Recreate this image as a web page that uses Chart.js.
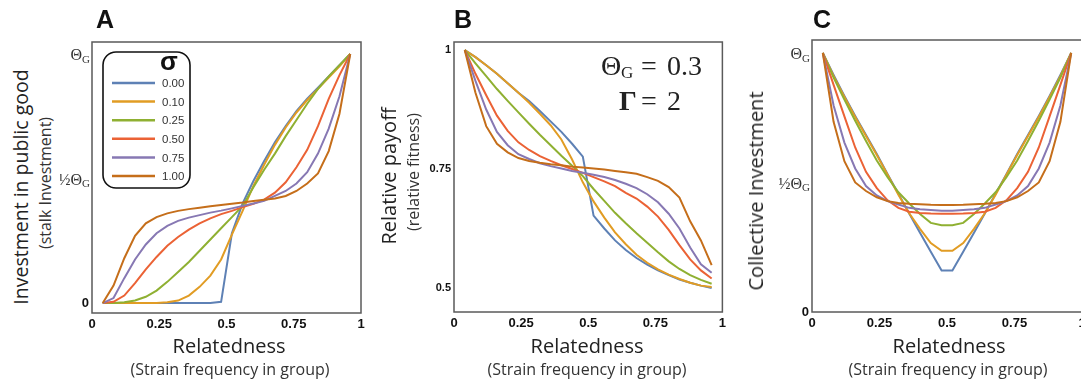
<!DOCTYPE html>
<html>
<head>
<meta charset="utf-8">
<script src="https://cdn.jsdelivr.net/npm/chart.js@4.4.1/dist/chart.umd.min.js"></script>
<style>
body{margin:0;background:#fff;overflow:hidden;width:1081px;height:385px;position:relative;font-family:"Open Sans","Liberation Sans",sans-serif}
canvas{position:absolute;top:0}
.t{position:absolute;white-space:nowrap;transform:translate(-50%,-50%);line-height:1}
.r{transform:translate(-50%,-50%) rotate(-90deg)}
.main{font-size:20px;color:#222}
.sub{font-size:16px;color:#333}
.let{font-family:"Liberation Sans",Arial,sans-serif;font-weight:bold;font-size:25px;color:#111}
</style>
</head>
<body>
<canvas id="cA" width="310" height="340" style="left:60px;width:310px;height:340px"></canvas>
<canvas id="cB" width="350" height="340" style="left:380px;width:350px;height:340px"></canvas>
<canvas id="cC" width="350" height="340" style="left:740px;width:350px;height:340px"></canvas>

<div class="t let" style="left:105px;top:19px">A</div>
<div class="t let" style="left:463px;top:19px">B</div>
<div class="t let" style="left:822px;top:19px">C</div>

<div class="t main" style="left:229px;top:346px">Relatedness</div>
<div class="t sub" style="left:230px;top:369px">(Strain frequency in group)</div>
<div class="t main" style="left:587px;top:346px">Relatedness</div>
<div class="t sub" style="left:587px;top:369px">(Strain frequency in group)</div>
<div class="t main" style="left:949px;top:346px">Relatedness</div>
<div class="t sub" style="left:948px;top:369px">(Strain frequency in group)</div>

<div class="t r main" style="left:21px;top:187px;font-size:19.5px">Investment in public good</div>
<div class="t r sub" style="left:45px;top:183px">(stalk Investment)</div>
<div class="t r main" style="left:389px;top:176px">Relative payoff</div>
<div class="t r sub" style="left:413px;top:172px">(relative fitness)</div>
<div class="t r main" style="left:756px;top:191px">Collective Investment</div>

<script>
// x values: strain frequency in group
const relatedness = [0.04,0.08,0.12,0.16,0.20,0.24,0.28,0.32,0.36,0.40,0.44,0.48,0.52,0.56,0.60,0.64,0.68,0.72,0.76,0.80,0.84,0.88,0.92,0.96];
const sigmaLabels = ['0.00','0.10','0.25','0.50','0.75','1.00'];
const lineColors = ['#5e81b5','#e19c24','#8fb032','#eb6235','#8778b3','#c56e1a'];

const xTicks = [0,0.25,0.5,0.75,1];
const xTickLabels = ['0','0.25','0.5','0.75','1'];
const yTicksA = [0,0.5,1];
const yTickLabelsA = ['0','½Θ_G','Θ_G'];
const yTicksB = [0.5,0.75,1];
const yTickLabelsB = ['0.5','0.75','1'];
const yTicksC = [0,0.5,1];
const yTickLabelsC = ['0','½Θ_G','Θ_G'];

// A: investment in public good (units of Theta_G)
const invest000 = [0,0,0,0,0,0,0,0,0,0,0,0.005,0.28,0.40,0.49,0.57,0.645,0.71,0.77,0.82,0.865,0.91,0.955,1.0];
const invest010 = [0,0,0,0,0,0,0.003,0.01,0.03,0.065,0.11,0.175,0.275,0.37,0.47,0.555,0.635,0.705,0.765,0.815,0.86,0.905,0.95,1.0];
const invest025 = [0,0,0.003,0.01,0.025,0.05,0.085,0.125,0.165,0.21,0.255,0.30,0.345,0.39,0.465,0.535,0.60,0.67,0.735,0.80,0.86,0.91,0.955,1.0];
const invest050 = [0,0.005,0.03,0.08,0.135,0.185,0.23,0.265,0.295,0.32,0.34,0.357,0.37,0.385,0.398,0.415,0.443,0.485,0.545,0.615,0.71,0.82,0.915,1.0];
const invest075 = [0,0.02,0.10,0.175,0.235,0.28,0.31,0.33,0.343,0.353,0.363,0.371,0.38,0.39,0.40,0.41,0.43,0.45,0.48,0.525,0.60,0.70,0.83,1.0];
const invest100 = [0,0.07,0.18,0.27,0.32,0.345,0.36,0.37,0.377,0.383,0.389,0.394,0.399,0.404,0.41,0.415,0.42,0.43,0.45,0.48,0.52,0.61,0.76,1.0];

// B: relative payoff
const payoff000 = [1.0,0.985,0.968,0.95,0.93,0.91,0.893,0.872,0.85,0.828,0.803,0.776,0.652,0.625,0.60,0.58,0.563,0.549,0.537,0.527,0.518,0.511,0.505,0.50];
const payoff010 = [1.0,0.985,0.968,0.95,0.93,0.91,0.889,0.866,0.842,0.812,0.77,0.722,0.682,0.648,0.617,0.592,0.570,0.553,0.539,0.528,0.519,0.511,0.505,0.502];
const payoff025 = [1.0,0.972,0.945,0.918,0.893,0.869,0.845,0.822,0.80,0.778,0.757,0.735,0.708,0.683,0.658,0.636,0.615,0.595,0.575,0.556,0.54,0.527,0.517,0.509];
const payoff050 = [1.0,0.95,0.905,0.862,0.83,0.806,0.79,0.777,0.767,0.758,0.75,0.742,0.733,0.724,0.714,0.70,0.688,0.671,0.65,0.622,0.59,0.56,0.537,0.52];
const payoff075 = [1.0,0.935,0.875,0.828,0.80,0.781,0.771,0.762,0.756,0.751,0.746,0.742,0.738,0.733,0.727,0.719,0.71,0.697,0.68,0.656,0.625,0.585,0.55,0.532];
const payoff100 = [1.0,0.91,0.84,0.803,0.785,0.773,0.767,0.763,0.76,0.758,0.755,0.753,0.751,0.749,0.746,0.743,0.74,0.733,0.725,0.712,0.69,0.64,0.60,0.548];

// C: collective investment (units of Theta_G)
const coll000 = [1.0,0.915,0.834,0.757,0.683,0.610,0.532,0.457,0.380,0.306,0.233,0.160,0.160,0.233,0.306,0.380,0.457,0.532,0.610,0.683,0.757,0.834,0.915,1.0];
const coll010 = [1.0,0.910,0.830,0.753,0.679,0.606,0.530,0.453,0.381,0.321,0.266,0.236,0.236,0.266,0.321,0.381,0.453,0.530,0.606,0.679,0.753,0.830,0.910,1.0];
const coll025 = [1.0,0.905,0.82,0.738,0.66,0.585,0.52,0.462,0.419,0.378,0.344,0.335,0.335,0.344,0.378,0.419,0.462,0.52,0.585,0.66,0.738,0.82,0.905,1.0];
const coll050 = [1.0,0.877,0.755,0.635,0.541,0.478,0.431,0.402,0.387,0.382,0.380,0.379,0.379,0.380,0.382,0.387,0.402,0.431,0.478,0.541,0.635,0.755,0.877,1.0];
const coll075 = [1.0,0.797,0.654,0.554,0.486,0.450,0.428,0.415,0.402,0.397,0.394,0.391,0.391,0.394,0.397,0.402,0.415,0.428,0.450,0.486,0.554,0.654,0.797,1.0];
const coll100 = [1.0,0.734,0.582,0.50,0.467,0.443,0.428,0.421,0.418,0.416,0.414,0.413,0.413,0.414,0.416,0.418,0.421,0.428,0.443,0.467,0.50,0.582,0.734,1.0];

//------------------------------------------------------------------
const framePlugin = {
    id:'frame',
    afterDraw(c){
        const a=c.chartArea, ctx=c.ctx;
        ctx.save();
        ctx.strokeStyle='#5a5a5a';
        ctx.lineWidth=1.5;
        ctx.strokeRect(a.left,a.top,a.right-a.left,a.bottom-a.top);
        ctx.restore();
    }
};

// y labels with subscript G, placed through the y scale
function thetaLabels(ticks,labels){
    return {
        id:'thetaLabels',
        afterDraw(c){
            const ctx=c.ctx, ys=c.scales.y, x0=c.chartArea.left-2;
            ctx.save();
            ctx.textBaseline='middle';
            ticks.forEach((v,i)=>{
                const py=ys.getPixelForValue(v);
                const txt=labels[i];
                if(txt.indexOf('_')<0){
                    ctx.font='bold 13px "Liberation Sans"';
                    ctx.fillStyle='#111';
                    ctx.textAlign='right';
                    ctx.fillText(txt,x0-1,py);
                }else{
                    const parts=txt.split('_');
                    ctx.font='11px "Liberation Serif"';
                    const ws=ctx.measureText(parts[1]).width;
                    ctx.font='16px "Liberation Serif"';
                    const wm=ctx.measureText(parts[0]).width;
                    ctx.fillStyle='#333';
                    ctx.textAlign='left';
                    ctx.fillText(parts[0],x0-ws-wm,py+2);
                    ctx.font='11px "Liberation Serif"';
                    ctx.fillText(parts[1],x0-ws,py+6);
                }
            });
            ctx.restore();
        }
    };
}

const legendBox = {
    id:'legendBox',
    afterDraw(c){
        const ctx=c.ctx, a=c.chartArea;
        const L=a.left+11, T=a.top+10, W=87, H=136, r=13;
        ctx.save();
        ctx.beginPath();
        ctx.roundRect(L,T,W,H,r);
        ctx.fillStyle='#fff';
        ctx.fill();
        ctx.strokeStyle='#111';
        ctx.lineWidth=1.6;
        ctx.stroke();
        ctx.fillStyle='#111';
        ctx.font='bold 26px "Liberation Sans"';
        ctx.textAlign='center';
        ctx.textBaseline='middle';
        ctx.fillText('σ',L+66,T+11);
        c.data.datasets.forEach((d,i)=>{
            const y=T+31+i*18.6;
            ctx.beginPath();
            ctx.moveTo(L+9,y);
            ctx.lineTo(L+52,y);
            ctx.strokeStyle=d.borderColor;
            ctx.lineWidth=2.5;
            ctx.stroke();
            ctx.font='11.5px "Liberation Sans"';
            ctx.fillStyle='#333';
            ctx.textAlign='left';
            ctx.fillText(d.label,L+59,y+1);
        });
        ctx.restore();
    }
};

const paramText = {
    id:'paramText',
    afterDraw(c){
        const ctx=c.ctx, a=c.chartArea;
        ctx.save();
        ctx.fillStyle='#222';
        ctx.textBaseline='alphabetic';
        ctx.textAlign='left';
        ctx.font='28px "Liberation Serif"';
        ctx.fillText('Θ',a.left+147,a.top+33);
        ctx.fillText('=',a.left+187,a.top+33);
        ctx.fillText('0.3',a.left+213,a.top+33);
        ctx.font='17px "Liberation Serif"';
        ctx.fillText('G',a.left+167,a.top+36);
        ctx.font='bold 28px "Liberation Serif"';
        ctx.fillText('Γ',a.left+165,a.top+68);
        ctx.font='28px "Liberation Serif"';
        ctx.fillText('=',a.left+187,a.top+68);
        ctx.fillText('2',a.left+213,a.top+68);
        ctx.restore();
    }
};

function panel(id,series,cfg){
    const ds=series.map((vals,i)=>({
        label:sigmaLabels[i],
        data:relatedness.map((x,j)=>({x:x,y:vals[j]})),
        borderColor:lineColors[i],
        backgroundColor:lineColors[i],
        borderWidth:2,
        pointRadius:0,
        tension:0,
        fill:false,
        order:6-i
    }));
    return new Chart(document.getElementById(id),{
        type:'line',
        data:{datasets:ds},
        options:{
            responsive:false,
            animation:false,
            devicePixelRatio:1,
            layout:{padding:{top:cfg.top,right:cfg.right,left:0,bottom:0}},
            plugins:{legend:{display:false},tooltip:{enabled:false}},
            scales:{
                x:{
                    type:'linear',min:0,max:1,
                    afterBuildTicks:s=>{s.ticks=xTicks.map(v=>({value:v}))},
                    ticks:{
                        callback:(v,i)=>xTickLabels[i],
                        font:{family:'Liberation Sans',size:13,weight:'bold'},
                        color:'#111',padding:4,maxRotation:0,autoSkip:false
                    },
                    grid:{display:false,drawTicks:false},
                    border:{display:false},
                    afterFit:s=>{s.height=cfg.xh}
                },
                y:{
                    type:'linear',min:cfg.ymin,max:cfg.ymax,
                    afterBuildTicks:s=>{s.ticks=cfg.yticks.map(v=>({value:v}))},
                    ticks:{
                        display:cfg.nativeY,
                        callback:(v,i)=>cfg.ylabels[i],
                        font:{family:'Liberation Sans',size:11,weight:'bold'},
                        color:'#111',padding:3
                    },
                    grid:{display:false,drawTicks:false},
                    border:{display:false},
                    afterFit:s=>{s.width=cfg.yw}
                }
            }
        },
        plugins:cfg.plugins
    });
}

function inicio(){
    panel('cA',[invest000,invest010,invest025,invest050,invest075,invest100],{
        top:42,right:9,xh:27,yw:32,ymin:-0.04,ymax:1.048,
        yticks:yTicksA,ylabels:yTickLabelsA,nativeY:false,
        plugins:[framePlugin,thetaLabels(yTicksA,yTickLabelsA),legendBox]
    });
    panel('cB',[payoff000,payoff010,payoff025,payoff050,payoff075,payoff100],{
        top:42,right:7,xh:28,yw:74,ymin:0.4496,ymax:1.0168,
        yticks:yTicksB,ylabels:yTickLabelsB,nativeY:true,
        plugins:[framePlugin,paramText]
    });
    panel('cC',[coll000,coll010,coll025,coll050,coll075,coll100],{
        top:40,right:8,xh:28,yw:72,ymin:0,ymax:1.05,
        yticks:yTicksC,ylabels:yTickLabelsC,nativeY:false,
        plugins:[framePlugin,thetaLabels(yTicksC,yTickLabelsC)]
    });
}
window.onload=inicio
</script>
</body>
</html>
